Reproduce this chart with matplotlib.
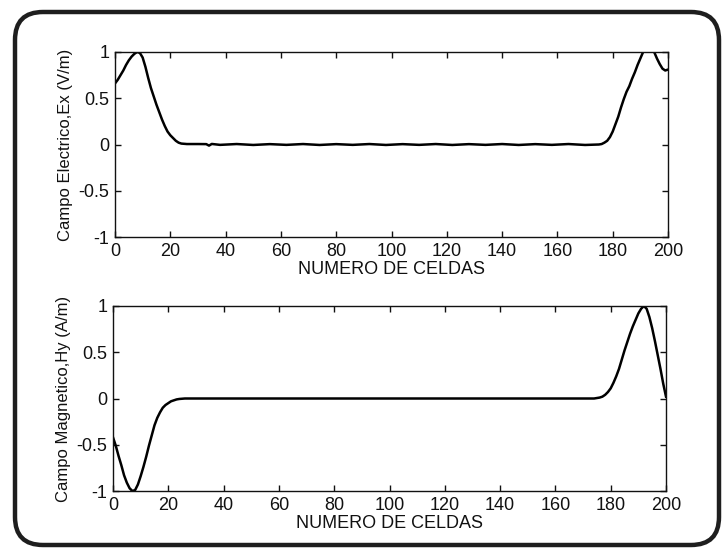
'''
plot.py
Campo electrico Ex y campo magnetico Hy a lo largo de la malla
(200 celdas), dibujado al estilo de una figura de MATLAB escaneada.
'''
import matplotlib
matplotlib.use('Agg')
import matplotlib.pyplot as plt
from matplotlib.patches import FancyBboxPatch

plt.rcParams['font.family'] = ['Liberation Sans Narrow', 'Liberation Sans', 'DejaVu Sans']

#
# data
#
ex_cells = [0, 1, 2, 3, 4, 5, 6, 7, 8, 9, 10, 11, 12, 13, 14, 15, 16, 17, 18,
            19, 20, 21, 22, 23, 24, 26, 30, 33, 34, 35, 38, 44, 50, 56, 62,
            68, 74, 80, 86, 92, 98, 104, 110, 116, 122, 128, 134, 140, 146,
            152, 158, 164, 170, 175, 176, 177, 178, 179, 180, 181, 182, 183,
            184, 185, 186, 187, 188, 189, 190, 191, 192, 193, 194, 195, 196,
            197, 198, 199, 200]
ex_vals  = [0.66, 0.70, 0.75, 0.80, 0.86, 0.91, 0.95, 0.98, 1.00, 0.99, 0.94,
            0.84, 0.72, 0.61, 0.52, 0.43, 0.35, 0.27, 0.20, 0.14, 0.10, 0.07,
            0.04, 0.02, 0.01, 0.005, 0.005, 0.004, -0.012, 0.006, -0.004,
            0.005, -0.005, 0.004, -0.004, 0.005, -0.005, 0.004, -0.004, 0.005,
            -0.005, 0.004, -0.004, 0.005, -0.005, 0.004, -0.004, 0.005,
            -0.005, 0.004, -0.004, 0.005, -0.005, 0.0, 0.005, 0.02, 0.04,
            0.08, 0.14, 0.22, 0.30, 0.40, 0.49, 0.57, 0.63, 0.71, 0.78, 0.86,
            0.93, 1.00, 1.05, 1.07, 1.05, 1.00, 0.93, 0.87, 0.82, 0.80, 0.81]

hy_cells = [0, 1, 2, 3, 4, 5, 6, 7, 8, 9, 10, 11, 12, 13, 14, 15, 16, 17, 18,
            19, 20, 21, 22, 23, 24, 26, 60, 100, 140, 174, 175, 176, 177, 178,
            179, 180, 181, 182, 183, 184, 185, 186, 187, 188, 189, 190, 191,
            192, 193, 194, 195, 196, 197, 198, 199, 200]
hy_vals  = [-0.42, -0.51, -0.62, -0.72, -0.83, -0.91, -0.97, -1.00, -0.99,
            -0.93, -0.84, -0.74, -0.63, -0.51, -0.40, -0.29, -0.21, -0.15,
            -0.10, -0.07, -0.05, -0.03, -0.02, -0.01, -0.005, 0.0, 0.0, 0.0,
            0.0, 0.0, 0.005, 0.01, 0.02, 0.04, 0.07, 0.11, 0.17, 0.24, 0.32,
            0.42, 0.52, 0.61, 0.70, 0.78, 0.85, 0.92, 0.97, 1.00, 0.97, 0.88,
            0.76, 0.62, 0.47, 0.32, 0.16, 0.02]

xticks = [0, 20, 40, 60, 80, 100, 120, 140, 160, 180, 200]
yticks = [-1, -0.5, 0, 0.5, 1]
ytick_labels = ['-1', '-0.5', '0', '0.5', '1']

W, H = 722, 548
fig = plt.figure(figsize=(W/100, H/100), dpi=100)

# rounded frame of the scanned page
frame = FancyBboxPatch((0.15, 0.03), 7.04, 5.33,
                       boxstyle='round,pad=0,rounding_size=0.28',
                       transform=fig.dpi_scale_trans, fill=False,
                       edgecolor='#1e1e1e', linewidth=3.2, clip_on=False)
fig.patches.append(frame)

def make_axes(left, top, x, y, ylabel):
    ax = fig.add_axes([left/W, (H-top-185)/H, 553/W, 185/H])
    ax.plot(x, y, color='black', linewidth=1.8)
    ax.set_xlim(0, 200)
    ax.set_ylim(-1, 1)
    ax.set_xticks(xticks)
    ax.set_xticklabels([str(t) for t in xticks])
    ax.set_yticks(yticks)
    ax.set_yticklabels(ytick_labels)
    ax.tick_params(direction='in', top=True, right=True, length=4.5,
                   width=1.0, labelsize=13, colors='#111111', pad=4)
    for s in ax.spines.values():
        s.set_linewidth(1.0)
        s.set_color('#111111')
    ax.set_xlabel('NUMERO DE CELDAS', fontsize=13, labelpad=1, color='#111111')
    ax.set_ylabel(ylabel, fontsize=12, labelpad=4, color='#111111')
    return ax

make_axes(115, 52, ex_cells, ex_vals, 'Campo Electrico,Ex (V/m)')
make_axes(113, 306, hy_cells, hy_vals, 'Campo Magnetico,Hy (A/m)')

fig.savefig('out.png', dpi=100)
